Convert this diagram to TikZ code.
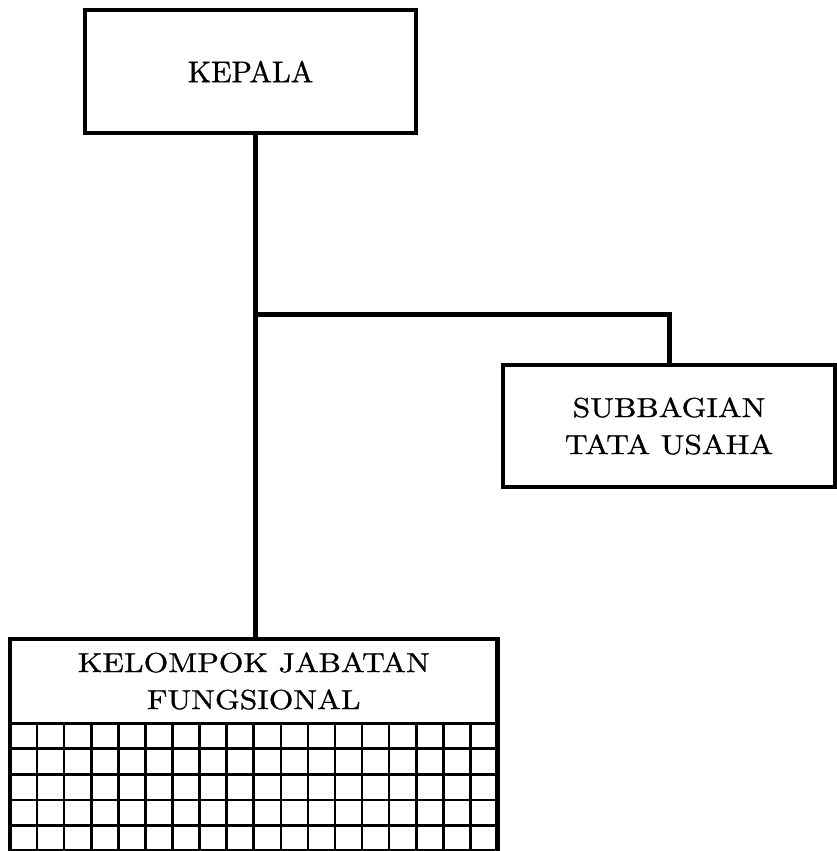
\documentclass[tikz,border=0pt]{standalone}
\usepackage{fontspec}
\newfontfamily\widefont{lmroman10-regular}[Extension=.otf,FakeStretch=1.15,FakeBold=0.9]
\newfontfamily\normfont{lmroman10-regular}[Extension=.otf,FakeBold=0.9]
\begin{document}
\begin{tikzpicture}[x=1pt,y=-1pt,
  box/.style={draw,line width=4.5pt,rectangle,inner sep=0pt,outer sep=0pt},
  conn/.style={line width=5pt},
  gridline/.style={line width=2.6pt},
  lbl/.style={align=center,font=\widefont\fontsize{27.5}{37}\selectfont}]
\useasboundingbox (0,0) rectangle (837,851);
% boxes
\node[box,minimum width=331pt,minimum height=123pt,font=\normfont\fontsize{30}{36}\selectfont] (kepala) at (250.5,71.5) {KEPALA};
\node[box,minimum width=332pt,minimum height=122pt,lbl] (sub) at (669,426) {SUBBAGIAN\\TATA USAHA};
% grid of the functional group box
\foreach \i in {1,...,17} \draw[gridline] ({10+27.083*\i},723) -- ({10+27.083*\i},851);
\foreach \j in {1,...,4} \draw[gridline] (10,{723+25.6*\j}) -- (497.5,{723+25.6*\j});
\draw[line width=3pt] (10,723) -- (497.5,723);
\node[box,minimum width=487.5pt,minimum height=212pt] (kel) at (253.75,745) {};
\node[lbl] (keltext) at (253.75,681) {KELOMPOK JABATAN\\FUNGSIONAL};
% connectors
\coordinate (j) at (255,314);
\draw[conn] (kepala.south -| j) -- (kel.north -| j);
\draw[conn] (j) -| (sub.north);
\end{tikzpicture}
\end{document}
